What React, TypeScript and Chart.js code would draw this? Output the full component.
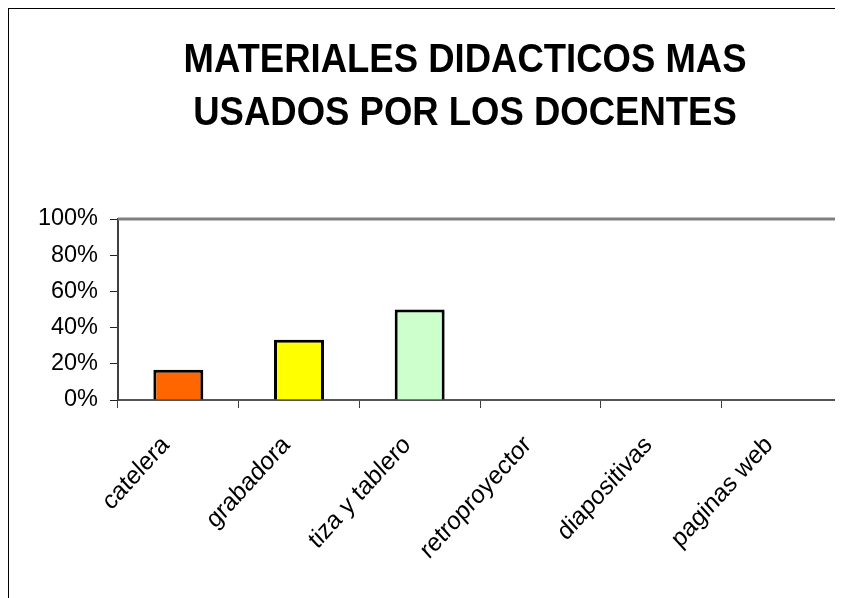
import React, { useEffect, useRef } from "react";
import { Chart, registerables } from "chart.js";

Chart.register(...registerables);

const TITLE_LINES = ["MATERIALES DIDACTICOS MAS", "USADOS POR LOS DOCENTES"];
const CATEGORIES = ["catelera", "grabadora", "tiza y tablero", "retroproyector", "diapositivas", "paginas web"];
const VALUES = [16.67, 33.33, 50, 0, 0, 0];
const BAR_COLORS = ["#FF6600", "#FFFF00", "#CCFFCC", "#FFFFFF", "#FFFFFF", "#FFFFFF"];
const Y_TICKS = [0, 20, 40, 60, 80, 100];

const FONT = "'Liberation Sans', Arial, sans-serif";
const STRETCH = 1.1;

const framePlugin = {
  id: "frame",
  afterDraw(chart: any) {
    const { ctx, chartArea } = chart;
    ctx.save();
    // title
    ctx.fillStyle = "#000";
    ctx.font = `bold 36.5px ${FONT}`;
    ctx.textAlign = "center";
    ctx.textBaseline = "alphabetic";
    const baselines = [63, 116];
    TITLE_LINES.forEach((line, i) => {
      ctx.save();
      ctx.translate(456, baselines[i]);
      ctx.scale(1, STRETCH);
      ctx.fillText(line, 0, 0);
      ctx.restore();
    });
    // x labels (rotated, slightly stretched like the original)
    const xs = chart.scales.x;
    ctx.font = `23.5px ${FONT}`;
    ctx.textAlign = "right";
    ctx.textBaseline = "alphabetic";
    CATEGORIES.forEach((label, i) => {
      const px = xs.getPixelForValue(i);
      ctx.save();
      ctx.translate(px - 8, chartArea.bottom + 46);
      ctx.scale(1, STRETCH);
      ctx.rotate(-Math.PI / 4);
      ctx.fillText(label, 0, 0);
      ctx.restore();
    });
    // top and right borders of the plot area
    ctx.strokeStyle = "#808080";
    ctx.lineWidth = 3;
    ctx.beginPath();
    ctx.moveTo(chartArea.left, chartArea.top);
    ctx.lineTo(chartArea.right, chartArea.top);
    ctx.stroke();
    ctx.lineWidth = 1.5;
    ctx.beginPath();
    ctx.moveTo(chartArea.right, chartArea.top);
    ctx.lineTo(chartArea.right, chartArea.bottom);
    ctx.stroke();
    ctx.restore();
  },
};

export default function App() {
  const ref = useRef<HTMLCanvasElement | null>(null);

  useEffect(() => {
    document.documentElement.style.overflow = "hidden";
    if (!ref.current) return;
    const chart = new Chart(ref.current, {
      type: "bar",
      data: {
        labels: CATEGORIES,
        datasets: [
          {
            data: VALUES,
            backgroundColor: BAR_COLORS,
            borderColor: "#000",
            borderWidth: 3,
            categoryPercentage: 1,
            barPercentage: 0.414,
          },
        ],
      },
      options: {
        responsive: false,
        animation: false,
        layout: { padding: { top: 210, right: 1, left: 0, bottom: 0 } },
        plugins: {
          legend: { display: false },
          title: { display: false },
          tooltip: { enabled: false },
        },
        scales: {
          x: {
            grid: {
              drawOnChartArea: false,
              drawTicks: true,
              tickLength: 8,
              tickColor: "#404040",
              offset: true,
            },
            border: { display: true, color: "#555555", width: 2 },
            ticks: { display: false, autoSkip: false },
            afterFit(scale: any) {
              scale.height = 198;
            },
          },
          y: {
            min: 0,
            max: 100,
            afterBuildTicks(scale: any) {
              scale.ticks = Y_TICKS.map((v) => ({ value: v }));
            },
            grid: {
              drawOnChartArea: false,
              drawTicks: true,
              tickLength: 8,
              tickColor: "#202020",
            },
            border: { display: true, color: "#404040", width: 2 },
            ticks: {
              color: "#000",
              font: { family: FONT, size: 23.5 },
              padding: 12,
              callback: (v: any) => `${v}%`,
            },
            afterFit(scale: any) {
              scale.width = 109;
            },
          },
        },
      },
      plugins: [framePlugin],
    });
    return () => chart.destroy();
  }, []);

  return (
    <div
      style={{
        width: 835,
        height: 590,
        borderLeft: "1.5px solid #000",
        borderTop: "1.5px solid #000",
        boxSizing: "border-box",
        position: "relative",
        background: "#fff",
      }}
    >
      <canvas ref={ref} width={834} height={589} style={{ display: "block" }} />
    </div>
  );
}
